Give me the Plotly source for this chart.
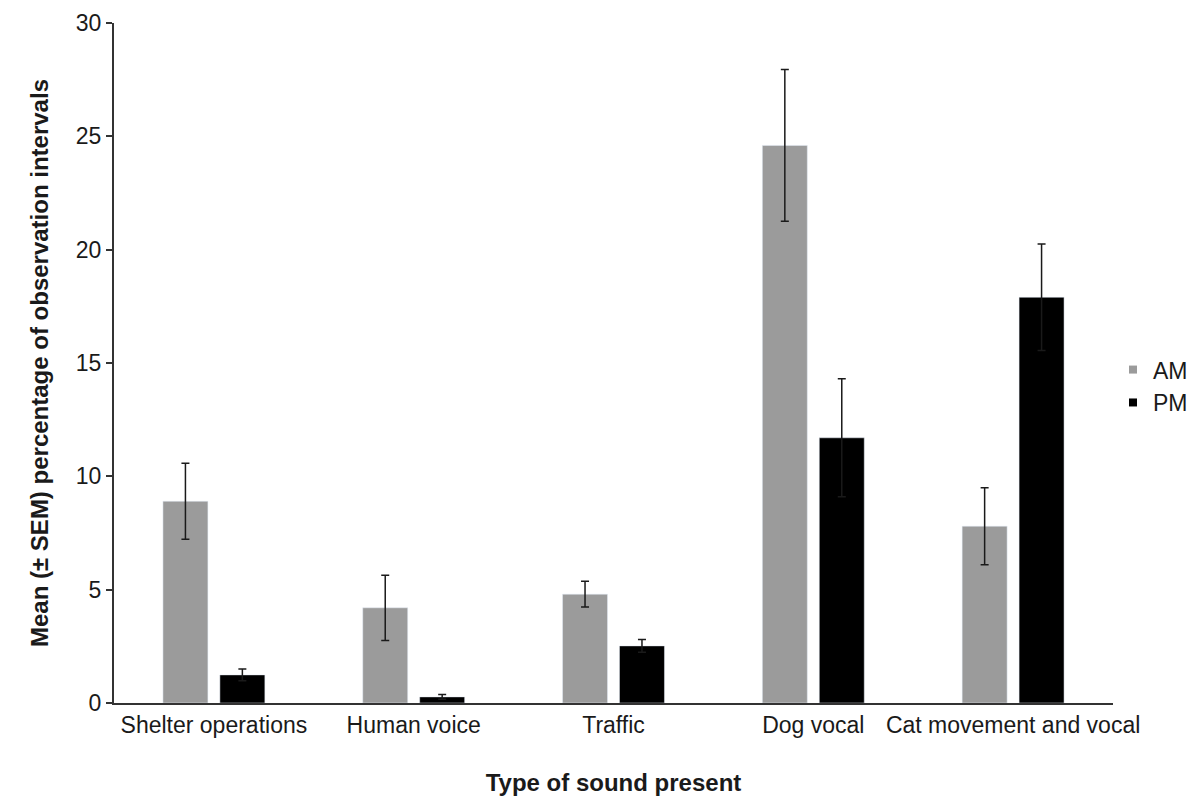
import plotly.graph_objects as go

categories = ["Shelter operations", "Human voice", "Traffic", "Dog vocal", "Cat movement and vocal"]
am_mean = [8.9, 4.2, 4.8, 24.6, 7.8]
am_sem = [1.68, 1.44, 0.57, 3.35, 1.7]
pm_mean = [1.24, 0.27, 2.52, 11.7, 17.9]
pm_sem = [0.26, 0.1, 0.28, 2.6, 2.35]
y_ticks = [0, 5, 10, 15, 20, 25, 30]

FONT = "Liberation Sans, Arial, sans-serif"
AM_COLOR = "#9b9b9b"
PM_COLOR = "#000000"
TXT = "#1a1a1a"

fig = go.Figure()
fig.add_trace(go.Bar(
    x=categories, y=am_mean, name="AM", marker_color=AM_COLOR, showlegend=False,
    error_y=dict(type="data", array=am_sem, visible=True, color=TXT, thickness=1.5, width=4),
))
fig.add_trace(go.Bar(
    x=categories, y=pm_mean, name="PM", marker_color=PM_COLOR, showlegend=False,
    error_y=dict(type="data", array=pm_sem, visible=True, color=TXT, thickness=1.5, width=4),
))
# legend-only entries with small square markers
fig.add_trace(go.Scatter(x=[None], y=[None], mode="markers", name="AM",
                         marker=dict(symbol="square", size=8, color=AM_COLOR)))
fig.add_trace(go.Scatter(x=[None], y=[None], mode="markers", name="PM",
                         marker=dict(symbol="square", size=8, color=PM_COLOR)))

# the page body adds an 8px margin, so the figure is sized to the visible area
fig.update_layout(
    width=1190, height=795,
    margin=dict(l=106, r=85, t=15, b=100, autoexpand=False),
    paper_bgcolor="white", plot_bgcolor="white",
    barmode="group", bargap=0.43, bargroupgap=0.21,
    font=dict(family=FONT, size=23, color=TXT),
    legend=dict(x=1.0, y=0.466, xanchor="left", yanchor="middle",
                font=dict(size=23, family=FONT, color=TXT),
                itemwidth=30, tracegroupgap=0, bgcolor="rgba(0,0,0,0)"),
    showlegend=True,
)
fig.update_xaxes(
    categoryorder="array", categoryarray=categories,
    showline=True, linecolor="#333333", linewidth=2,
    ticks="", showgrid=False, zeroline=False,
    tickfont=dict(size=23, family=FONT, color=TXT),
    title=dict(text="<b>Type of sound present</b>", font=dict(size=24, family=FONT, color=TXT), standoff=38),
)
fig.update_yaxes(
    range=[0, 30], tickvals=y_ticks, ticktext=[str(v) for v in y_ticks],
    showline=True, linecolor="#333333", linewidth=2,
    ticks="outside", ticklen=6, tickwidth=1.5, tickcolor="#333333",
    showgrid=False, zeroline=False,
    tickfont=dict(size=23, family=FONT, color=TXT),
    title=dict(text="<b>Mean (± SEM) percentage of observation intervals</b>",
               font=dict(size=24, family=FONT, color=TXT), standoff=20),
)

fig.write_html("out.html")
